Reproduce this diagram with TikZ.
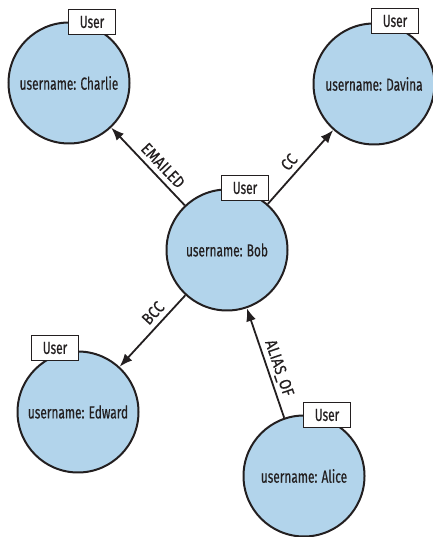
\documentclass[tikz,border=0pt]{standalone}
\usepackage{fontspec}
\setmainfont[FakeStretch=0.68,FakeBold=0.4]{Fira Sans}
\newfontfamily\labelfont[FakeStretch=0.86,FakeBold=0.4]{Fira Sans}
\usetikzlibrary{arrows.meta}
\definecolor{nodeblue}{RGB}{178,212,235}
\definecolor{ink}{RGB}{35,31,32}
\begin{document}
\begin{tikzpicture}[x=1pt,y=1pt,
  person/.style={circle, draw=ink, line width=2pt, fill=nodeblue, minimum size=121pt, inner sep=0pt, text=ink, font=\fontsize{17.5}{20}\selectfont},
  tag/.style={rectangle, draw=ink, line width=1.8pt, fill=white, minimum width=47pt, minimum height=25pt, inner sep=0pt, text=ink, font=\fontsize{17.5}{20}\selectfont},
  rel/.style={draw=ink, line width=1.8pt, -{Latex[length=13pt,width=10pt]}},
  lbl/.style={sloped, text=ink, inner sep=0pt, font=\labelfont\fontsize{16.5}{20}\selectfont}]
\useasboundingbox (0,0) rectangle (432,537);
\node[person] (charlie) at (69,454) {username: Charlie};
\node[person] (davina) at (374,453) {username: Davina};
\node[person] (bob) at (227,287) {username: Bob};
\node[person] (edward) at (78,125) {username: Edward};
\node[person] (alice) at (304,61) {username: Alice};
\node[tag] (tc) at (92,515) {User};
\node[tag] (td) at (395,516) {User};
\node[tag] (tb) at (245,349) {User};
\node[tag] (te) at (55,189) {User};
\node[tag] (ta) at (327,122) {User};
\draw[rel] (bob) -- node[lbl, pos=0.41, above=5pt] {EMAILED} (charlie);
\draw[rel] (bob) -- node[lbl, pos=0.46, above=5pt] {CC} (davina);
\draw[rel] (bob) -- node[lbl, pos=0.36, above=5pt] {BCC} (edward);
\draw[rel] (alice) -- node[lbl, pos=0.42, above=3pt] {ALIAS\_OF} (bob);
\end{tikzpicture}
\end{document}
